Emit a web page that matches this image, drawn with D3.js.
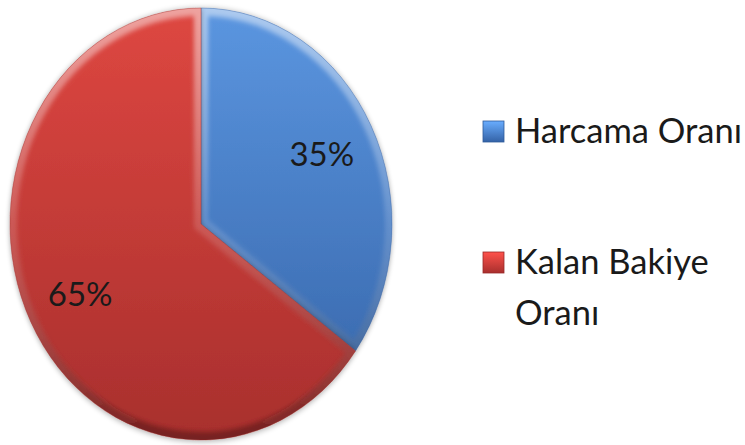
<!DOCTYPE html>
<html>
<head>
<meta charset="utf-8">
<script src="https://cdn.jsdelivr.net/npm/d3@7"></script>
<style>
  body { margin: 0; background: #fff; }
  svg { display: block; font-family: Lato, "Open Sans", sans-serif; }
</style>
</head>
<body>
<svg id="chart"></svg>
<script>
// chart data
var categories = ["Harcama Oranı", "Kalan Bakiye Oranı"];
var values = [35, 65];
var legendLines = [["Harcama Oranı"], ["Kalan Bakiye", "Oranı"]];
var pctLabels = ["35%", "65%"];

var W = 745, H = 445;
var cx = 201, cy = 224, rx = 191, ry = 216;

var colors = {
  "Harcama Oranı": { top: "#5b96e0", bottom: "#3462a6", edge: "#2f5b99" },
  "Kalan Bakiye Oranı": { top: "#de4741", bottom: "#a82f2d", edge: "#9a2a28" }
};

var svg = d3.select("#chart").attr("width", W).attr("height", H);
var defs = svg.append("defs");

// vertical gradients for each slice
categories.forEach(function (c, i) {
  var g = defs.append("linearGradient")
    .attr("id", "grad" + i)
    .attr("gradientUnits", "userSpaceOnUse")
    .attr("x1", 0).attr("y1", -ry).attr("x2", 0).attr("y2", ry);
  g.append("stop").attr("offset", "0%").attr("stop-color", colors[c].top);
  g.append("stop").attr("offset", "100%").attr("stop-color", colors[c].bottom);
});

// bevel stroke gradient: light on top, dark at bottom
var bev = defs.append("linearGradient")
  .attr("id", "bevel")
  .attr("gradientUnits", "userSpaceOnUse")
  .attr("x1", 0).attr("y1", -ry).attr("x2", 0).attr("y2", ry);
bev.append("stop").attr("offset", "0%").attr("stop-color", "#fff").attr("stop-opacity", 0.5);
bev.append("stop").attr("offset", "50%").attr("stop-color", "#fff").attr("stop-opacity", 0.15);
bev.append("stop").attr("offset", "100%").attr("stop-color", "#000").attr("stop-opacity", 0.3);

var blur = defs.append("filter").attr("id", "soft")
  .attr("x", "-20%").attr("y", "-20%").attr("width", "140%").attr("height", "140%");
blur.append("feGaussianBlur").attr("stdDeviation", 2.5);

var shadow = defs.append("filter").attr("id", "shadow")
  .attr("x", "-20%").attr("y", "-20%").attr("width", "140%").attr("height", "140%");
shadow.append("feGaussianBlur").attr("in", "SourceAlpha").attr("stdDeviation", 3).attr("result", "b");
shadow.append("feOffset").attr("in", "b").attr("dx", 0).attr("dy", 1).attr("result", "o");
shadow.append("feComponentTransfer").attr("in", "o").attr("result", "s")
  .append("feFuncA").attr("type", "linear").attr("slope", 0.35);
var merge = shadow.append("feMerge");
merge.append("feMergeNode").attr("in", "s");
merge.append("feMergeNode").attr("in", "SourceGraphic");

var pie = d3.pie().sort(null).value(function (d) { return d; });
var arcs = pie(values);
var arc = d3.arc().innerRadius(0).outerRadius(ry);
var labelArc = d3.arc().innerRadius(ry * 0.71).outerRadius(ry * 0.71);

// pie group, stretched horizontally into an ellipse
var g = svg.append("g")
  .attr("transform", "translate(" + cx + "," + cy + ") scale(" + (rx / ry) + ",1)");

arcs.forEach(function (d, i) {
  defs.append("clipPath").attr("id", "clip" + i)
    .append("path").attr("d", arc(d));
});

var slices = g.selectAll("g.slice")
  .data(arcs)
  .enter()
  .append("g")
  .attr("class", "slice")
  .attr("filter", "url(#shadow)");

slices.append("path")
  .attr("d", arc)
  .attr("fill", function (d, i) { return "url(#grad" + i + ")"; });

// bevel highlight along edges
slices.append("g")
  .attr("clip-path", function (d, i) { return "url(#clip" + i + ")"; })
  .append("path")
  .attr("d", arc)
  .attr("fill", "none")
  .attr("stroke", "url(#bevel)")
  .attr("stroke-width", 16)
  .attr("filter", "url(#soft)");

slices.append("path")
  .attr("d", arc)
  .attr("fill", "none")
  .attr("stroke", function (d, i) { return colors[categories[i]].edge; })
  .attr("stroke-opacity", 0.5)
  .attr("stroke-width", 0.8);

// percentage labels
svg.selectAll("text.pct")
  .data(arcs)
  .enter()
  .append("text")
  .attr("class", "pct")
  .attr("x", function (d) { return cx + labelArc.centroid(d)[0] * rx / ry; })
  .attr("y", function (d) { return cy + labelArc.centroid(d)[1]; })
  .attr("dy", "0.36em")
  .attr("text-anchor", "middle")
  .attr("font-size", 33)
  .attr("fill", "#1a1a1a")
  .text(function (d, i) { return pctLabels[i]; });

// legend
var legendY = [143, 274];
var legend = svg.selectAll("g.legend")
  .data(categories)
  .enter()
  .append("g")
  .attr("class", "legend")
  .attr("transform", function (d, i) { return "translate(483," + legendY[i] + ")"; });

categories.forEach(function (c, i) {
  var lg = defs.append("linearGradient").attr("id", "lgrad" + i)
    .attr("x1", 0).attr("y1", 0).attr("x2", 0).attr("y2", 1);
  lg.append("stop").attr("offset", "0%").attr("stop-color", d3.color(colors[c].top).brighter(0.4));
  lg.append("stop").attr("offset", "100%").attr("stop-color", colors[c].bottom);
});

legend.append("rect")
  .attr("x", 0).attr("y", -22)
  .attr("width", 21).attr("height", 21)
  .attr("fill", function (d, i) { return "url(#lgrad" + i + ")"; })
  .attr("stroke", function (d) { return colors[d].edge; })
  .attr("stroke-width", 0.8);

legend.each(function (d, i) {
  d3.select(this).selectAll("text")
    .data(legendLines[i])
    .enter()
    .append("text")
    .attr("x", 32)
    .attr("y", function (t, j) { return j * 51; })
    .attr("font-size", 34.5)
    .attr("fill", "#1a1a1a")
    .text(function (t) { return t; });
});
</script>
</body>
</html>
